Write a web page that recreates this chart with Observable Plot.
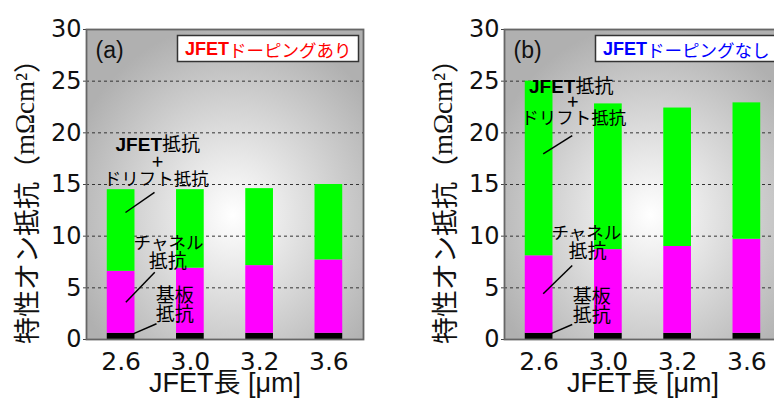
<!DOCTYPE html>
<html><head><meta charset="utf-8">
<script src="https://cdn.jsdelivr.net/npm/d3@7"></script>
<script src="https://cdn.jsdelivr.net/npm/@observablehq/plot@0.6"></script>
<style>
html,body{margin:0;padding:0;background:#fff;}
body{width:774px;height:401px;overflow:hidden;}
#wrap{display:flex;width:836px;}
#wrap svg{display:block;flex:none;}
#wrap svg g[aria-label^="y-axis"] text{font-family:"DejaVu Sans" !important;font-size:24px !important;fill:#111 !important;}
#wrap svg g[aria-label^="x-axis"] text{font-family:"DejaVu Sans" !important;font-size:25px !important;fill:#111 !important;}
</style>
</head><body><div id="wrap"></div>
<script>
// ---- data ----
const categories = ["2.6", "3.0", "3.2", "3.6"];
const parts = ["基板抵抗", "チャネル抵抗", "JFET抵抗+ドリフト抵抗"];
const partColors = ["#000000", "#ff00ff", "#00ff00"];
// panel (a) JFETドーピングあり
const substrateA = [0.6, 0.6, 0.6, 0.6];
const channelA = [6.0, 6.3, 6.55, 7.1];
const driftA = [7.9, 7.6, 7.45, 7.3];
// panel (b) JFETドーピングなし
const substrateB = [0.6, 0.6, 0.6, 0.6];
const channelB = [7.5, 8.1, 8.4, 9.1];
const driftB = [16.9, 14.1, 13.4, 13.2];
const yTicks = [0, 5, 10, 15, 20, 25, 30];
const gridValues = [5, 10, 15, 20, 25];
const panelLabels = ["(a)", "(b)"];
const legendBold = "JFET";
const legendRest = ["ドーピングあり", "ドーピングなし"];
const legendColors = ["#ff0000", "#0000ff"];
const xTitle = "JFET長 [μm]";

const W = 418, H = 401, ML = 86, MR = 55, MT = 29, MB = 62;

function makePanel(idx, sub, ch, dr, ann) {
  const rows = [];
  categories.forEach((c, i) => {
    const vals = [sub[i], ch[i], dr[i]];
    let acc = 0;
    vals.forEach((v, k) => {
      rows.push({i, cat: c, part: parts[k], y1: acc, y2: acc + v});
      acc += v;
    });
  });
  const cjk = "Noto Sans CJK JP";
  const tx = (arr, o) => Plot.text(arr, {x: "x", y: "y", text: "t", fill: "black", fontFamily: cjk, fontSize: 19, lineAnchor: "middle", ...o});
  const svg = Plot.plot({
    width: W, height: H,
    marginLeft: ML, marginRight: MR, marginTop: MT, marginBottom: MB,
    style: {fontFamily: "DejaVu Sans", fontSize: "24px", background: "transparent", color: "#111"},
    x: {type: "linear", domain: [-0.5, 3.5], ticks: categories.map((c, i) => i),
        tickFormat: i => categories[i], tickSize: 0, tickPadding: 13, label: null},
    y: {domain: [0, 30], ticks: yTicks, tickSize: 3, tickPadding: 2, label: null},
    color: {domain: parts, range: partColors},
    marks: [
      Plot.ruleY(gridValues, {stroke: "#333", strokeDasharray: "3,3", strokeWidth: 1}),
      Plot.rectY(rows, {x1: d => d.i - 0.2, x2: d => d.i + 0.2, y1: "y1", y2: "y2", fill: "part"}),
      Plot.frame({stroke: "#666", strokeWidth: 1.8}),
      Plot.text([panelLabels[idx]], {frameAnchor: "top-left", dx: 9, dy: 21, textAnchor: "start", lineAnchor: "middle",
        fontSize: 23, fontFamily: "Liberation Sans", fill: "#111"}),
      Plot.text([xTitle], {frameAnchor: "bottom", dy: 44, lineAnchor: "middle", fontSize: 27,
        fontFamily: "Liberation Sans, Noto Sans CJK JP", fill: "#111"}),
      // annotations
      tx([{x: ann.split, y: ann.top, t: "JFET"}], {textAnchor: "end", fontFamily: "Liberation Sans", fontWeight: "bold"}),
      tx([{x: ann.split, y: ann.top, t: "抵抗"}], {textAnchor: "start"}),
      tx([ann.plus], {fontSize: 20}),
      tx([ann.drift], {fontSize: 17.5}),
      tx([ann.chan], {fontSize: 17.5}),
      tx([ann.chan2]),
      tx([ann.sub1]),
      tx([ann.sub2]),
      Plot.link(ann.links, {x1: "x1", y1: "y1", x2: "x2", y2: "y2", stroke: "black", strokeWidth: 1.5})
    ]
  });
  const s = d3.select(svg);
  s.selectAll('[aria-label^="y-axis"] line, [aria-label^="y-axis"] path').attr("stroke", "#444");
  // background gradient
  const gid = "bg" + idx;
  const defs = s.insert("defs", ":first-child");
  const g = defs.append("radialGradient").attr("id", gid)
    .attr("cx", "0.53").attr("cy", "0.6").attr("r", "0.62").attr("fx", "0.53").attr("fy", "0.6");
  g.append("stop").attr("offset", "0").attr("stop-color", "#ffffff");
  g.append("stop").attr("offset", "0.3").attr("stop-color", "#e8e8e8");
  g.append("stop").attr("offset", "1").attr("stop-color", "#b0b0b0");
  s.insert("rect", "defs + *").attr("x", ML).attr("y", MT).attr("width", W - ML - MR).attr("height", H - MT - MB)
    .attr("fill", `url(#${gid})`);
  // legend box
  const lg = s.append("g");
  lg.append("rect").attr("x", W - MR - 185.5).attr("y", MT + 6.5).attr("width", 181).attr("height", 26)
    .attr("fill", "white").attr("stroke", "#333").attr("stroke-width", 1.5);
  const lt = lg.append("text").attr("x", W - MR - 178).attr("y", MT + 19.5).attr("dominant-baseline", "central")
    .attr("text-anchor", "start").attr("font-size", 17.5).attr("fill", legendColors[idx]);
  lt.append("tspan").attr("font-family", "Liberation Sans").attr("font-weight", "bold").attr("font-size", 18).text(legendBold);
  lt.append("tspan").attr("font-family", "Noto Sans CJK JP").text(legendRest[idx]);
  // y title
  const yt = s.append("text").attr("transform", `translate(25,195) rotate(-90)`)
    .attr("text-anchor", "middle").attr("dominant-baseline", "central").attr("font-size", 27).attr("fill", "#111");
  yt.append("tspan").attr("font-family", "Noto Sans CJK JP").text("特性オン抵抗（");
  yt.append("tspan").attr("font-family", "Liberation Serif").text("mΩcm²");
  yt.append("tspan").attr("font-family", "Noto Sans CJK JP").text("）");
  return svg;
}

const annA = {
  split: 0.59, top: 18.82,
  plus: {x: 0.525, y: 17.13, t: "+"},
  drift: {x: 0.509, y: 15.53, t: "ドリフト抵抗"},
  chan: {x: 0.684, y: 9.29, t: "チャネル"},
  chan2: {x: 0.674, y: 7.55, t: "抵抗"},
  sub1: {x: 0.775, y: 4.21, t: "基板"},
  sub2: {x: 0.775, y: 2.42, t: "抵抗"},
  links: [
    {x1: 0.482, y1: 14.23, x2: 0.063, y2: 12.29},
    {x1: 0.486, y1: 6.51, x2: 0.068, y2: 3.61},
    {x1: 0.511, y1: 1.52, x2: 0.174, y2: 0.55}
  ]
};
const annB = {
  split: 0.525, top: 24.48,
  plus: {x: 0.487, y: 22.97, t: "+"},
  drift: {x: 0.5, y: 21.36, t: "ドリフト抵抗"},
  chan: {x: 0.682, y: 10.26, t: "チャネル"},
  chan2: {x: 0.70, y: 8.47, t: "抵抗"},
  sub1: {x: 0.761, y: 4.1, t: "基板"},
  sub2: {x: 0.761, y: 2.32, t: "抵抗"},
  links: [
    {x1: 0.478, y1: 19.74, x2: 0.059, y2: 17.97},
    {x1: 0.478, y1: 7.16, x2: 0.059, y2: 4.42},
    {x1: 0.478, y1: 1.45, x2: 0.164, y2: 0.55}
  ]
};

const wrap = document.getElementById("wrap");
wrap.appendChild(makePanel(0, substrateA, channelA, driftA, annA));
wrap.appendChild(makePanel(1, substrateB, channelB, driftB, annB));
</script>
</body></html>
